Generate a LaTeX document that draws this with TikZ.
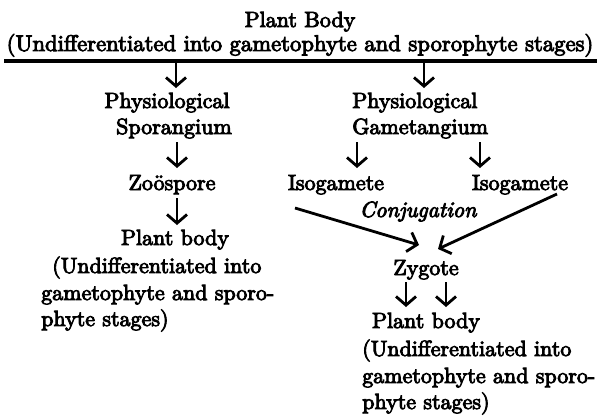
\documentclass[tikz,border=0pt]{standalone}
\usepackage{fontspec}
\newfontfamily\pfont{lmroman10-regular.otf}[
  ItalicFont=lmroman10-italic.otf,
  BoldFont=lmroman10-regular.otf,
  BoldFeatures={FakeBold=4},
  BoldItalicFont=lmroman10-italic.otf,
  BoldItalicFeatures={FakeBold=4}]
\usetikzlibrary{arrows.meta}
\begin{document}
\begin{tikzpicture}[x=0.75pt,y=-0.75pt,
  txt/.style={inner sep=0pt,font=\pfont\bfseries\fontsize{16.5}{20}\selectfont},
  arr/.style={line width=2.1pt,-{Straight Barb[length=6.5pt,width=15pt,line width=2.1pt]}},
  rulestyle/.style={line width=2.4pt}]
\useasboundingbox (0,0) rectangle (600,415);
% top
\node[txt,anchor=base] (top1) at (300,27) {Plant Body};
\node[txt,anchor=base,font=\pfont\bfseries\fontsize{17}{20}\selectfont] (top2) at (300,51) {(Undifferentiated into gametophyte and sporophyte stages)};
\coordinate (rl) at (4,61);
\coordinate (rr) at (597,61);
\draw[rulestyle] (rl) -- (rr);
% left column
\node[txt,anchor=base] (physL) at (167,108) {Physiological};
\node[txt,anchor=base] (sporL) at (174,134) {Sporangium};
\node[txt,anchor=base] (zoo) at (172,190) {Zoöspore};
\node[txt,anchor=base] (pbL) at (175,245) {Plant body};
\node[txt,anchor=base west] (udL1) at (52,273) {(Undifferentiated into};
\node[txt,anchor=base west] (udL2) at (41,300) {gametophyte and sporo-};
\node[txt,anchor=base west] (udL3) at (41,326) {phyte stages)};
% right column
\node[txt,anchor=base west] (physR) at (352,108) {Physiological};
\node[txt,anchor=base west] (gamR) at (352,134) {Gametangium};
\node[txt,anchor=base] (isoL) at (336,190) {Isogamete};
\node[txt,anchor=base] (isoR) at (520,190) {Isogamete};
\node[txt,anchor=base,font=\pfont\bfseries\itshape\fontsize{16.5}{20}\selectfont] (conj) at (418,217) {Conjugation};
\node[txt,anchor=base] (zyg) at (426,275) {Zygote};
\node[txt,anchor=base] (pbR) at (426,328) {Plant body};
\node[txt,anchor=base west] (udR1) at (362,356) {(Undifferentiated into};
\node[txt,anchor=base west] (udR2) at (362,383) {gametophyte and sporo-};
\node[txt,anchor=base west] (udR3) at (362,409) {phyte stages)};
% arrow end points
\coordinate (a1s) at (176,61);  \coordinate (a1e) at (176,88);
\coordinate (a2s) at (424,61);  \coordinate (a2e) at (424,88);
\coordinate (l1s) at (177,142); \coordinate (l1e) at (177,168);
\coordinate (l2s) at (177,198); \coordinate (l2e) at (177,225);
\coordinate (r1s) at (357,142); \coordinate (r1e) at (357,168);
\coordinate (r2s) at (480,142); \coordinate (r2e) at (480,168);
\coordinate (d1s) at (295,208); \coordinate (d1e) at (419,245);
\coordinate (d2s) at (557,194); \coordinate (d2e) at (438,249);
\coordinate (z1s) at (406,282); \coordinate (z1e) at (406,307);
\coordinate (z2s) at (446,282); \coordinate (z2e) at (446,307);
% arrows
\draw[arr] (a1s) -- (a1e);
\draw[arr] (a2s) -- (a2e);
\draw[arr] (l1s) -- (l1e);
\draw[arr] (l2s) -- (l2e);
\draw[arr] (r1s) -- (r1e);
\draw[arr] (r2s) -- (r2e);
\draw[arr] (d1s) -- (d1e);
\draw[arr] (d2s) -- (d2e);
\draw[arr] (z1s) -- (z1e);
\draw[arr] (z2s) -- (z2e);
\end{tikzpicture}
\end{document}
